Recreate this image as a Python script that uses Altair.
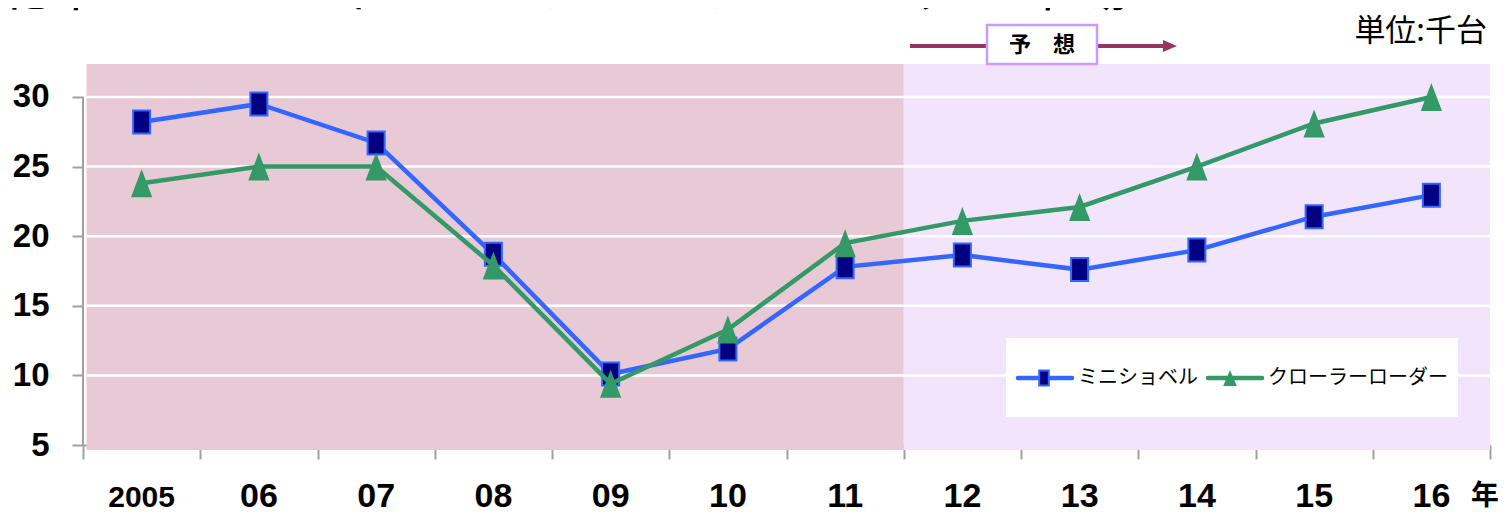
import altair as alt
import pandas as pd

# ---- data ----
years = ["2005", "06", "07", "08", "09", "10", "11", "12", "13", "14", "15", "16"]
mini_excavator = [28.2, 29.5, 26.7, 18.7, 10.1, 11.9, 17.8, 18.65, 17.6, 19.0, 21.4, 22.95]
crawler_loader = [23.8, 25.0, 25.0, 17.9, 9.4, 13.3, 19.5, 21.1, 22.1, 25.0, 28.1, 30.0]
series_names = ["ミニショベル", "クローラーローダー"]
y_ticks = [5, 10, 15, 20, 25, 30]
grid_values = [10, 15, 20, 25, 30]
period_start = [-0.47, 6.5]   # actual (2005-11), forecast (12-16)
period_end = [6.5, 11.5]
title_text = "北米のミニショベル・クローラーローダー市場"
unit_text = "単位:千台"
forecast_text = "予　想"
year_suffix = "年"

# ---- styles ----
FONT_NUM = "Liberation Sans, Arial, sans-serif"
FONT_JP = "Noto Sans CJK JP"
BLUE = "#3366ff"
NAVY = "#000080"
GREEN = "#339966"
AXIS_GRAY = "#a0a0a0"
PINK = "#e8c9d6"
LAVENDER = "#f1e4fb"
ARROW = "#993366"
BOX = "#cc99ff"

RECT_PATH = "M-0.74,-1L0.74,-1L0.74,1L-0.74,1Z"
TRI_PATH = "M0,-1L0.76,1L-0.76,1Z"
LEG_RECT = "M-0.64,-1L0.64,-1L0.64,1L-0.64,1Z"
LEG_TRI = "M0,-1L0.85,1L-0.85,1Z"
ARROW_HEAD = "M-1,-0.85L1,0L-1,0.85Z"

XS = alt.Scale(domain=[-0.5, 11.5], nice=False, zero=False)
YS = alt.Scale(domain=[5, 32.37], nice=False, zero=False)
XAX = alt.Axis(values=[i - 0.5 for i in range(len(years) + 1)], labels=False,
               tickSize=14, tickColor=AXIS_GRAY, tickWidth=2,
               domainColor=AXIS_GRAY, domainWidth=2, grid=False, title=None)
YAX = alt.Axis(values=y_ticks, domain=False, tickSize=11, tickColor=AXIS_GRAY,
               tickWidth=2, labelFont=FONT_NUM, labelFontSize=33,
               labelFontWeight="bold", labelColor="black", labelPadding=23,
               grid=False, title=None)

idx = list(range(len(years)))
df_mini = pd.DataFrame({"x": idx, "v": mini_excavator})
df_crawler = pd.DataFrame({"x": idx, "v": crawler_loader})
df_labels = pd.DataFrame({"x": idx, "label": years})
df_bg = pd.DataFrame({"x0": period_start, "x1": period_end, "c": [PINK, LAVENDER]})
df_grid = pd.DataFrame({"g": grid_values})
one = alt.Data(values=[{}])

bg = alt.Chart(df_bg).mark_rect(strokeWidth=0).encode(
    x=alt.X("x0:Q", scale=XS, axis=XAX), x2="x1:Q",
    y=alt.YDatum(32.37, scale=YS, axis=YAX), y2=alt.Y2Datum(4.64),
    color=alt.Color("c:N", scale=None))

grid = alt.Chart(df_grid).mark_rule(color="white", strokeWidth=2.5).encode(
    x=alt.XDatum(-0.47, scale=XS, axis=XAX), x2=alt.X2Datum(11.5),
    y=alt.Y("g:Q", scale=YS, axis=YAX))

yline = alt.Chart(one).mark_rule(color=AXIS_GRAY, strokeWidth=2).encode(
    x=alt.XDatum(-0.5, scale=XS, axis=XAX),
    y=alt.YDatum(30, scale=YS, axis=YAX), y2=alt.Y2Datum(5))

enc = dict(x=alt.X("x:Q", scale=XS, axis=XAX), y=alt.Y("v:Q", scale=YS, axis=YAX))

mini_line = alt.Chart(df_mini).mark_line(color=BLUE, strokeWidth=4.5).encode(**enc)
mini_pts = alt.Chart(df_mini).mark_point(
    shape=RECT_PATH, size=529, filled=True, fill=NAVY, stroke=BLUE,
    strokeWidth=2, opacity=1).encode(**enc)
cr_line = alt.Chart(df_crawler).mark_line(color=GREEN, strokeWidth=4.5).encode(**enc)
cr_pts = alt.Chart(df_crawler).mark_point(
    shape=TRI_PATH, size=784, filled=True, fill=GREEN, strokeWidth=0,
    opacity=1).encode(**enc)

xlabels = alt.Chart(df_labels).mark_text(
    font=FONT_NUM, fontWeight="bold", baseline="alphabetic", color="black").encode(
    x=alt.X("x:Q", scale=XS, axis=XAX), y=alt.value(443), text="label:N",
    size=alt.condition("datum.x == 0", alt.value(30), alt.value(34)))

nen = alt.Chart(one).mark_text(text=year_suffix, font=FONT_JP, fontWeight="bold",
                               fontSize=28, baseline="alphabetic", color="black").encode(
    x=alt.value(1402), y=alt.value(441))

title = alt.Chart(one).mark_text(text=title_text, font=FONT_JP, fontSize=54,
                                 align="left", baseline="bottom", color="black").encode(
    x=alt.value(-88), y=alt.value(-47))

unit = alt.Chart(one).mark_text(text=unit_text, font=FONT_JP, fontSize=31,
                                align="right", baseline="middle", color="black").encode(
    x=alt.value(1404), y=alt.value(-32))

arrow_line = alt.Chart(one).mark_rule(color=ARROW, strokeWidth=4).encode(
    x=alt.value(827), x2=alt.value(1080), y=alt.value(-18))
arrow_head = alt.Chart(one).mark_point(shape=ARROW_HEAD, size=196, filled=True,
                                       fill=ARROW, strokeWidth=0, opacity=1).encode(
    x=alt.value(1087), y=alt.value(-18))
fbox = alt.Chart(one).mark_rect(fill="white", stroke=BOX, strokeWidth=2.5).encode(
    x=alt.value(904), x2=alt.value(1014), y=alt.value(-39), y2=alt.value(0))
ftext = alt.Chart(one).mark_text(text=forecast_text, font=FONT_JP, fontWeight="bold",
                                 fontSize=22, baseline="middle", color="black").encode(
    x=alt.value(959), y=alt.value(-19))

# legend
leg_box = alt.Chart(one).mark_rect(fill="white", strokeWidth=0).encode(
    x=alt.value(923), x2=alt.value(1375), y=alt.value(274), y2=alt.value(353))
leg_l1 = alt.Chart(one).mark_rule(color=BLUE, strokeWidth=4.5, strokeCap="round").encode(
    x=alt.value(935), x2=alt.value(989), y=alt.value(314))
leg_p1 = alt.Chart(one).mark_point(shape=LEG_RECT, size=225, filled=True, fill=NAVY,
                                   stroke=BLUE, strokeWidth=2, opacity=1).encode(
    x=alt.value(961), y=alt.value(314))
leg_t1 = alt.Chart(one).mark_text(text=series_names[0], font=FONT_JP, fontSize=20,
                                  align="left", baseline="middle", color="black").encode(
    x=alt.value(995), y=alt.value(314))
leg_l2 = alt.Chart(one).mark_rule(color=GREEN, strokeWidth=4.5, strokeCap="round").encode(
    x=alt.value(1125), x2=alt.value(1179), y=alt.value(314))
leg_p2 = alt.Chart(one).mark_point(shape=LEG_TRI, size=256, filled=True, fill=GREEN,
                                   strokeWidth=0, opacity=1).encode(
    x=alt.value(1147), y=alt.value(314))
leg_t2 = alt.Chart(one).mark_text(text=series_names[1], font=FONT_JP, fontSize=20,
                                  align="left", baseline="middle", color="black").encode(
    x=alt.value(1185), y=alt.value(314))

chart = alt.layer(
    bg, grid, yline, mini_line, mini_pts, cr_line, cr_pts, xlabels, nen,
    title, unit, arrow_line, arrow_head, fbox, ftext,
    leg_box, leg_l1, leg_p1, leg_t1, leg_l2, leg_p2, leg_t2,
).properties(
    width=1407, height=381,
    autosize=alt.AutoSizeParams(type="none"),
    padding={"left": 75, "top": 56, "right": 8, "bottom": 70},
    background="white",
).configure_view(stroke=None)

chart.save("out.html", embed_options={"renderer": "svg", "actions": False})
